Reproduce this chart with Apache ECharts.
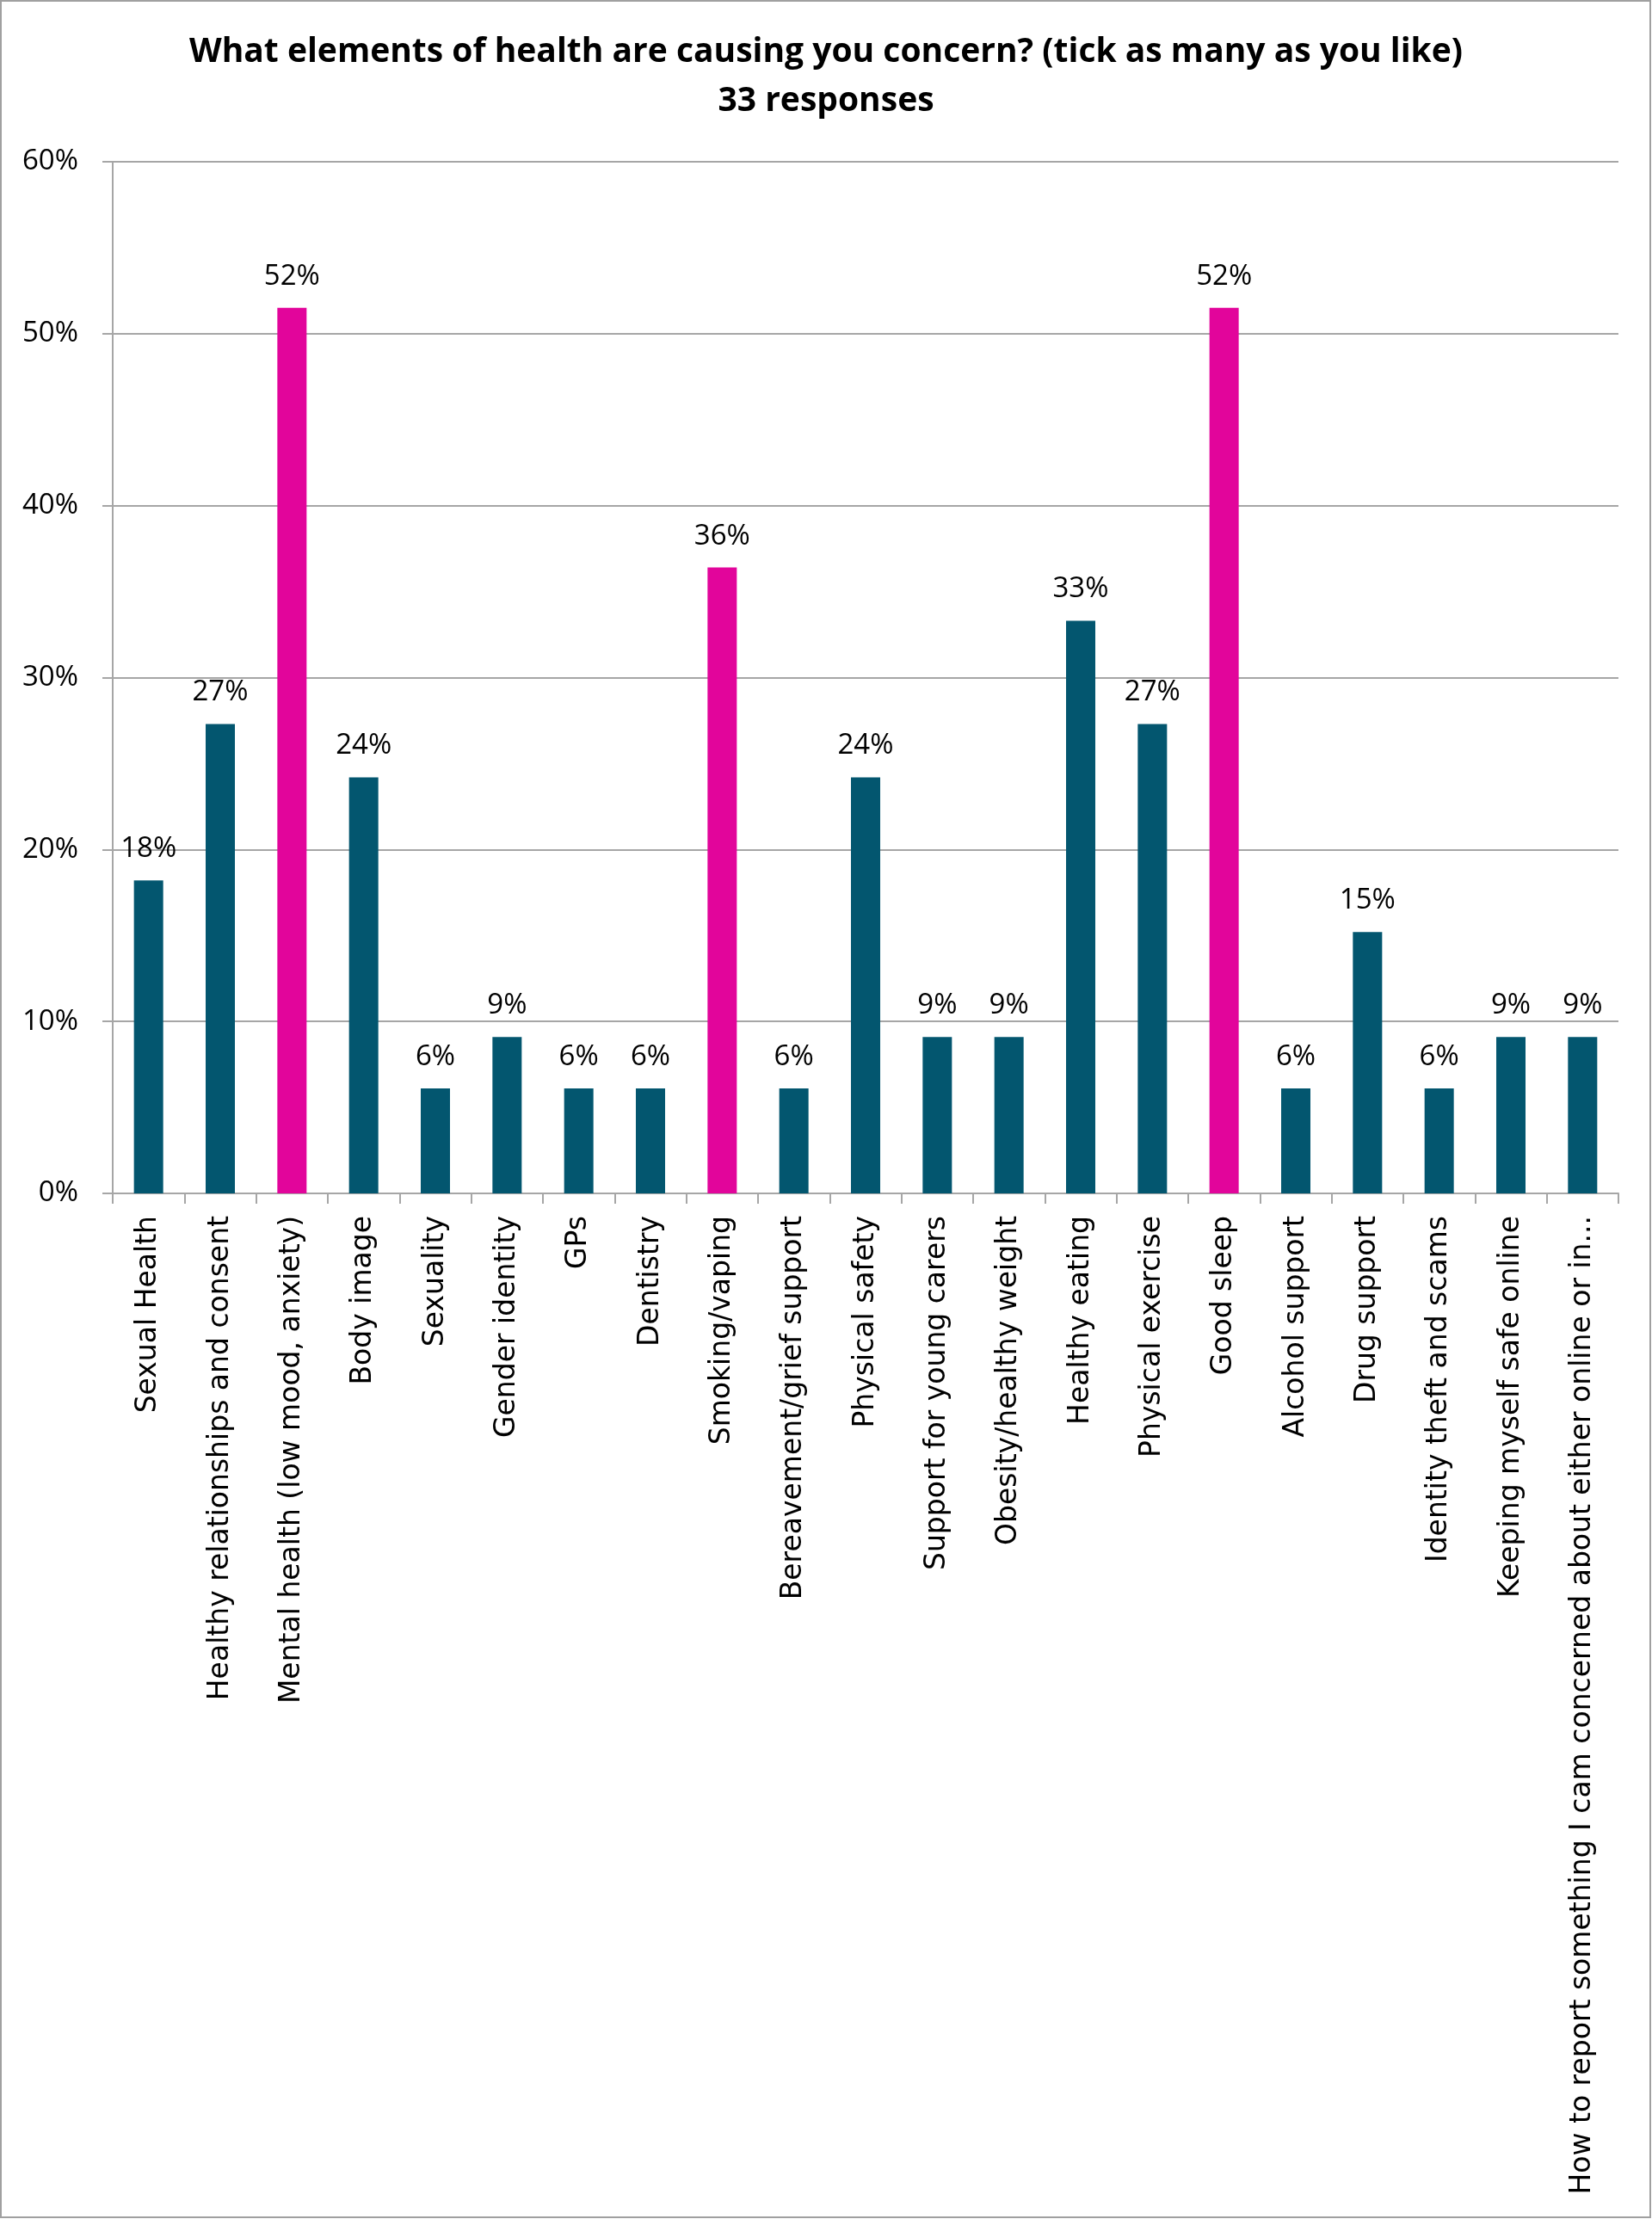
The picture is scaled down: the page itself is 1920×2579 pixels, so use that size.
<!DOCTYPE html>
<html>
<head>
<meta charset="utf-8">
<script src="https://cdn.jsdelivr.net/npm/echarts@6/dist/echarts.min.js"></script>
<style>
html,body{margin:0;padding:0;background:#fff;}
#chart{width:1920px;height:2579px;}
</style>
</head>
<body>
<div id="chart"></div>
<script>
const titleText = "What elements of health are causing you concern? (tick as many as you like)";
const subtitleText = "33 responses";
const categories = [
  "Sexual Health",
  "Healthy relationships and consent",
  "Mental health (low mood, anxiety)",
  "Body image",
  "Sexuality",
  "Gender identity",
  "GPs",
  "Dentistry",
  "Smoking/vaping",
  "Bereavement/grief support",
  "Physical safety",
  "Support for young carers",
  "Obesity/healthy weight",
  "Healthy eating",
  "Physical exercise",
  "Good sleep",
  "Alcohol support",
  "Drug support",
  "Identity theft and scams",
  "Keeping myself safe online",
  "How to report something I cam concerned about either online or in..."
];
const values = [18.2, 27.3, 51.5, 24.2, 6.1, 9.1, 6.1, 6.1, 36.4, 6.1, 24.2, 9.1, 9.1, 33.3, 27.3, 51.5, 6.1, 15.2, 6.1, 9.1, 9.1];
const highlighted = ["Mental health (low mood, anxiety)", "Smoking/vaping", "Good sleep"];
const yTicks = [0, 10, 20, 30, 40, 50, 60];

const FONT = "Open Sans";
const CAT_FONT = "DejaVu Sans";
const BASE = "#03566f";
const PINK = "#e2059b";
const GRID = "#a6a6a6";

const chart = echarts.init(document.getElementById('chart'), null, {renderer: 'canvas'});
chart.setOption({
  backgroundColor: '#fff',
  animation: false,
  textStyle: {fontFamily: FONT},
  graphic: [{
    type: 'rect', silent: true, z: 100,
    shape: {x: 1, y: 1, width: 1917, height: 2576},
    style: {fill: 'none', stroke: '#a0a0a0', lineWidth: 2}
  }],
  title: {
    text: titleText + "\n" + subtitleText,
    left: 'center',
    top: 27,
    textStyle: {fontFamily: FONT, fontWeight: 'bold', fontSize: 39, lineHeight: 57, color: '#000'}
  },
  grid: {left: 131, right: 39, top: 188, bottom: 1192, containLabel: false, outerBoundsMode: 'none'},
  xAxis: {
    type: 'category',
    data: categories,
    axisLine: {show: true, lineStyle: {color: GRID, width: 2}},
    axisTick: {show: true, length: 12, lineStyle: {color: GRID, width: 2}},
    axisLabel: {rotate: 90, interval: 0, margin: 26, fontSize: 33, color: '#000', fontFamily: CAT_FONT}
  },
  yAxis: {
    type: 'value',
    min: yTicks[0], max: yTicks[yTicks.length - 1], interval: 10,
    axisLine: {show: true, lineStyle: {color: GRID, width: 2}},
    axisTick: {show: true, length: 12, lineStyle: {color: GRID, width: 2}},
    splitLine: {show: true, lineStyle: {color: GRID, width: 2}},
    axisLabel: {formatter: '{value}%', margin: 40, fontSize: 33, color: '#000', fontFamily: FONT}
  },
  series: [{
    type: 'bar',
    data: values,
    barWidth: 34,
    itemStyle: {
      color: function (p) { return highlighted.indexOf(categories[p.dataIndex]) >= 0 ? PINK : BASE; }
    },
    label: {
      show: true, position: 'top', distance: 20,
      fontSize: 33, color: '#000', fontFamily: FONT,
      formatter: function (p) { return Math.round(p.value) + '%'; }
    }
  }]
});
</script>
</body>
</html>
